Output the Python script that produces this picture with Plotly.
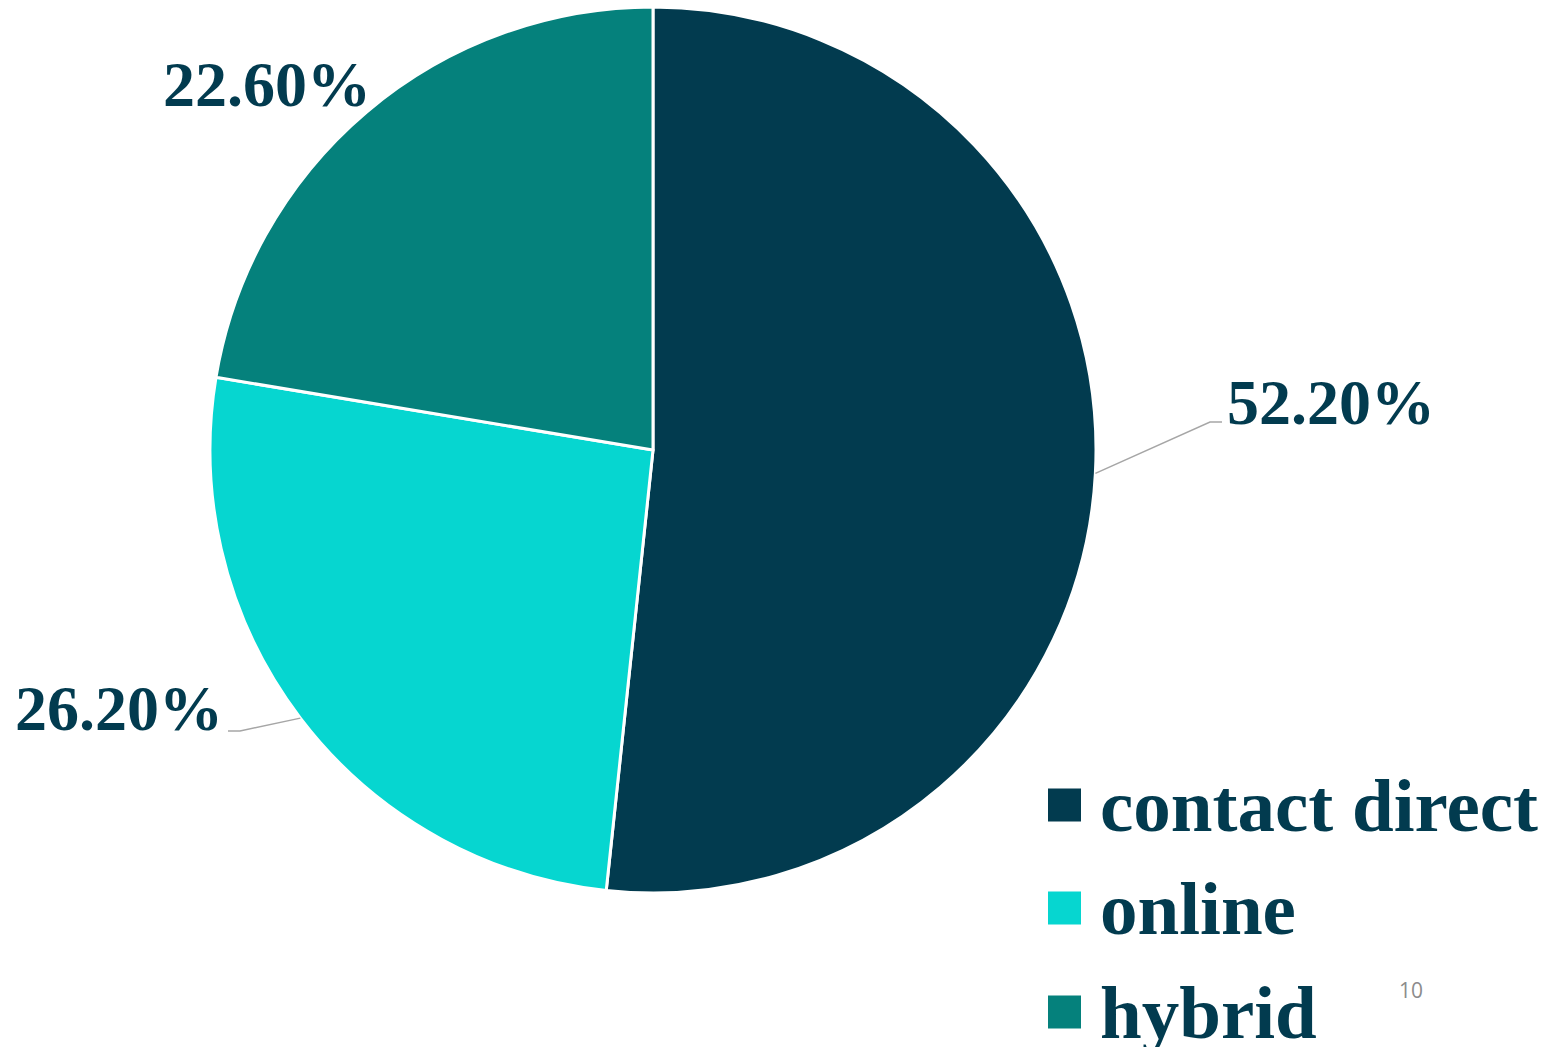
import math
import plotly.graph_objects as go

# ---- data ----
labels = ["contact direct", "online", "hybrid"]
values = [52.2, 26.2, 22.6]
value_text = ["52.20%", "26.20%", "22.60%"]
colors = ["#023B4F", "#06D6D0", "#05817C"]
page_number = "10"

# ---- layout constants (pixels) ----
W, H = 1553, 1047
CX, CY, R = 653, 450, 443
TEXT_COLOR = "#023B4F"
SERIF = "Liberation Serif, Times New Roman, serif"


def px(x):
    return x / W


def py(y):
    return 1 - y / H


fig = go.Figure(go.Pie(
    labels=labels, values=values, sort=False, direction="clockwise", rotation=0,
    marker=dict(colors=colors, line=dict(color="white", width=3)),
    textinfo="none", showlegend=False,
    domain=dict(x=[px(CX - R), px(CX + R)], y=[py(CY + R), py(CY - R)]),
))

# label placement per slice: (text x, text y, xanchor, elbow points or None)
label_layout = [
    (1225, 402, "left", [(1210, 422), (1222, 422)]),
    (225, 708, "right", [(240, 731), (228, 731)]),
    (267, 84, "center", None),
]

total = sum(values)
cum = 0.0
annotations = []
shapes = []
for i, v in enumerate(values):
    mid = (cum + v / 2) / total
    cum += v
    th = 2 * math.pi * mid
    ex, ey = CX + R * math.sin(th), CY - R * math.cos(th)
    tx, ty, xa, elbow = label_layout[i]
    annotations.append(dict(
        x=px(tx), y=py(ty), xref="paper", yref="paper", xanchor=xa, yanchor="middle",
        text=value_text[i], showarrow=False,
        font=dict(family=SERIF, size=64, color=TEXT_COLOR, weight="bold"),
    ))
    if elbow:
        pts = [(ex, ey)] + elbow
        path = "M " + " L ".join(f"{px(a)},{py(b)}" for a, b in pts)
        shapes.append(dict(type="path", path=path, xref="paper", yref="paper",
                           line=dict(color="#A6A6A6", width=1.5)))

# custom legend
leg_y = [805, 908, 1012]
sq = 33
for i, lab in enumerate(labels):
    y = leg_y[i]
    shapes.append(dict(type="rect", xref="paper", yref="paper",
                       x0=px(1048), x1=px(1048 + sq), y0=py(y + sq / 2), y1=py(y - sq / 2),
                       fillcolor=colors[i], line=dict(width=0)))
    annotations.append(dict(
        x=px(1098), y=py(y), xref="paper", yref="paper", xanchor="left", yanchor="middle",
        text=lab, showarrow=False,
        font=dict(family=SERIF, size=75, color=TEXT_COLOR, weight="bold"),
    ))

annotations.append(dict(
    x=px(1411), y=py(990), xref="paper", yref="paper", xanchor="center", yanchor="middle",
    text=page_number, showarrow=False,
    font=dict(family="Open Sans, Liberation Sans, sans-serif", size=21, color="#8C8C8C"),
))

fig.update_layout(
    width=W, height=H, margin=dict(l=0, r=0, t=0, b=0),
    paper_bgcolor="white", plot_bgcolor="white",
    annotations=annotations, shapes=shapes, showlegend=False,
)

fig.write_html("out.html", config={"displayModeBar": False},
               post_script="document.body.style.margin='0';document.body.style.overflow='hidden';")
